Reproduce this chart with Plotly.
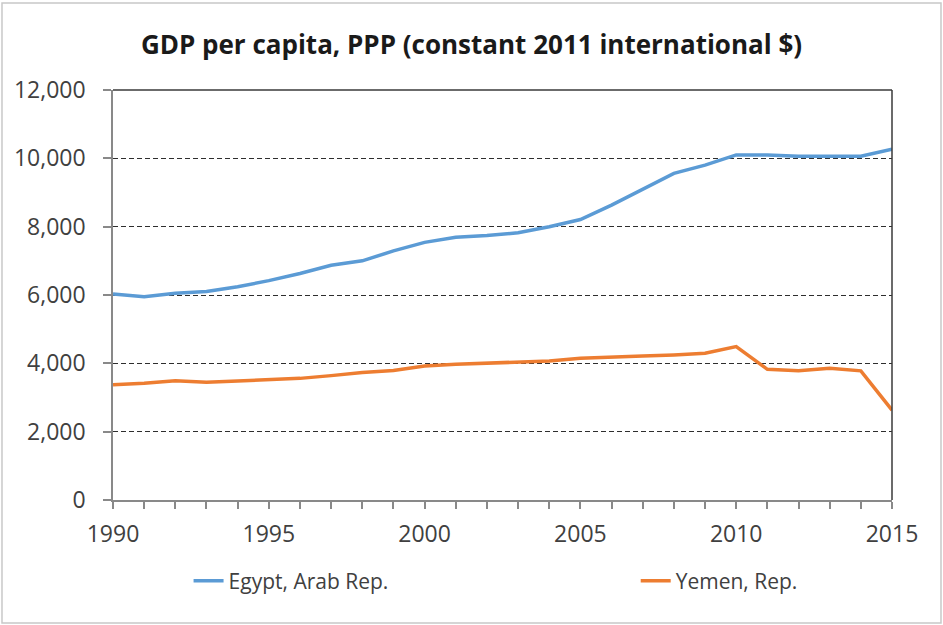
import plotly.graph_objects as go

years = list(range(1990, 2016))
egypt = [6030, 5950, 6050, 6100, 6240, 6420, 6630, 6870, 7000, 7290, 7540, 7690, 7740,
         7820, 8000, 8210, 8630, 9090, 9560, 9800, 10100, 10100, 10060, 10060, 10060, 10270]
yemen = [3370, 3415, 3490, 3445, 3485, 3515, 3560, 3640, 3730, 3790, 3920, 3970, 4000,
         4030, 4070, 4150, 4195, 4215, 4245, 4295, 4490, 3825, 3780, 3855, 3780, 2630]
y_ticks = [0, 2000, 4000, 6000, 8000, 10000, 12000]
y_labels = ["0", "2,000", "4,000", "6,000", "8,000", "10,000", "12,000"]
x_ticks = [1990, 1995, 2000, 2005, 2010, 2015]

FONT = "'Open Sans', sans-serif"
TXT = "#404040"
AXC = "#898989"

fig = go.Figure()
fig.add_trace(go.Scatter(x=years, y=egypt, mode="lines", name="Egypt, Arab Rep.",
                         line=dict(color="#5B9BD5", width=3.5), legend="legend"))
fig.add_trace(go.Scatter(x=years, y=yemen, mode="lines", name="Yemen, Rep.",
                         line=dict(color="#ED7D31", width=3.5), legend="legend2"))

leg_common = dict(orientation="h", yanchor="middle", y=-0.198, xanchor="left",
                  bgcolor="rgba(0,0,0,0)", font=dict(family=FONT, size=21, color=TXT))

fig.update_layout(
    width=943, height=625,
    margin=dict(l=113, r=51, t=90, b=125),
    paper_bgcolor="white", plot_bgcolor="white",
    font=dict(family=FONT, size=23, color=TXT),
    title=dict(text="<b>GDP per capita, PPP (constant 2011 international $)</b>",
               x=0.5, xanchor="center", y=0.928, yanchor="middle",
               font=dict(family=FONT, size=26, color="#1a1a1a")),
    showlegend=True,
    legend=dict(x=0.097, **leg_common),
    legend2=dict(x=0.671, **leg_common),
    xaxis=dict(range=[1990, 2015], tickvals=x_ticks, ticktext=[str(v) for v in x_ticks],
               showgrid=False, zeroline=False, showline=True, linecolor=AXC, linewidth=1.5,
               ticks="outside", ticklen=7, tickcolor=AXC, tickwidth=1.5,
               minor=dict(dtick=1, ticks="outside", ticklen=7, tickcolor=AXC, tickwidth=1.5),
               ticklabelstandoff=6,
               tickfont=dict(family=FONT, size=23, color=TXT)),
    yaxis=dict(range=[0, 12000], tickvals=y_ticks, ticktext=y_labels,
               showgrid=True, gridcolor="#2e2e2e", griddash="5px,3px", gridwidth=1.2,
               zeroline=False, showline=True, linecolor=AXC, linewidth=1.5,
               ticks="outside", ticklen=8, tickcolor=AXC, tickwidth=1.5,
               ticklabelstandoff=13,
               tickfont=dict(family=FONT, size=23, color=TXT)),
    shapes=[
        dict(type="line", xref="paper", yref="paper", x0=0, x1=1, y0=1, y1=1,
             line=dict(color="#3a3a3a", width=1.5)),
        dict(type="line", xref="paper", yref="paper", x0=1, x1=1, y0=0, y1=1,
             line=dict(color="#3a3a3a", width=1.5)),
        dict(type="rect", xref="paper", yref="paper", x0=-0.1425, x1=1.0629, y0=-0.3, y1=1.2122,
             line=dict(color="#c8c8c8", width=1.5), layer="below"),
    ],
)

fig.write_html("out.html", config={"displayModeBar": False},
               post_script="document.body.style.margin='0';")
